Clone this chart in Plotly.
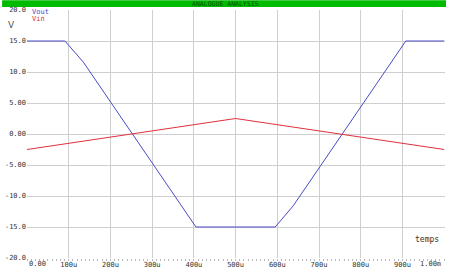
import plotly.graph_objects as go

# Data (time in seconds, voltages in V)
t_vout = [0, 91e-6, 135e-6, 405e-6, 595e-6, 638e-6, 908e-6, 1e-3]
vout = [15, 15, 11.6, -15, -15, -11.6, 15, 15]
t_vin = [0, 500e-6, 1e-3]
vin = [-2.5, 2.5, -2.5]

x_tickvals = [i * 100e-6 for i in range(11)]
x_ticktext = ["0.00", "100u", "200u", "300u", "400u", "500u", "600u", "700u", "800u", "900u", "1.00m"]
y_tickvals = [20, 15, 10, 5, 0, -5, -10, -15, -20]
y_ticktext = ["20.0", "15.0", "10.0", "5.00", "0.00", "-5.00", "-10.0", "-15.0", "-20.0"]

W, H = 450, 274
L, R, T, B = 25, 5, 10, 12
PW, PH = W - L - R, H - T - B

def px(x):
    return (x - L) / PW

def py(y):
    return (H - B - y) / PH

FONT = "DejaVu Sans Mono"
fig = go.Figure()
fig.add_trace(go.Scatter(x=t_vout, y=vout, mode="lines", line=dict(color="#4a4ac8", width=1), name="Vout"))
fig.add_trace(go.Scatter(x=t_vin, y=vin, mode="lines", line=dict(color="#e0303c", width=1), name="Vin"))

# middle tick labels drawn by the axis; first and last placed like the reference (aligned to the edges)
axis_ticktext = [""] + x_ticktext[1:-1] + [""]

fig.update_layout(
    width=W, height=H, margin=dict(l=L, r=R, t=T, b=B, pad=0),
    paper_bgcolor="white", plot_bgcolor="white", showlegend=False,
    font=dict(family=FONT, size=7, color="#333333"),
    xaxis=dict(range=[0, 1.002e-3], tickvals=x_tickvals, ticktext=axis_ticktext,
               showgrid=True, gridcolor="#cfcfcf", gridwidth=1, zeroline=False,
               showline=False, ticks="", ticklabelstandoff=1,
               tickfont=dict(size=7, family=FONT, color="#333"),
               minor=dict(dtick=10e-6, ticks="outside", ticklen=2, tickcolor="#b8b8b8", showgrid=False),
               fixedrange=True),
    yaxis=dict(range=[-20, 20], tickvals=y_tickvals, ticktext=y_ticktext,
               showgrid=True, gridcolor="#cfcfcf", gridwidth=1, zeroline=False,
               showline=False, ticks="", tickfont=dict(size=7, family=FONT, color="#333"),
               fixedrange=True),
)

fig.add_annotation(text=x_ticktext[0], xref="paper", yref="paper", x=px(25), y=py(268),
                   showarrow=False, xanchor="left", yanchor="middle",
                   font=dict(family=FONT, size=7, color="#333"))
fig.add_annotation(text=x_ticktext[-1], xref="paper", yref="paper", x=px(443), y=py(268),
                   showarrow=False, xanchor="right", yanchor="middle",
                   font=dict(family=FONT, size=7, color="#333"))

fig.add_shape(type="rect", xref="paper", yref="paper",
              x0=px(0), x1=px(446), y0=py(7), y1=py(0),
              fillcolor="#00bb00", line=dict(width=0), layer="below")
fig.add_annotation(text="ANALOGUE ANALYSIS", xref="paper", yref="paper",
                   x=px(224), y=py(4.2), showarrow=False, xanchor="center", yanchor="middle",
                   borderpad=0,
                   font=dict(family=FONT, size=6.5, color="#005500"))
fig.add_annotation(text="Vout", xref="paper", yref="paper", x=px(28), y=py(12.5),
                   showarrow=False, xanchor="left", yanchor="middle",
                   font=dict(family=FONT, size=7, color="#4a4ac8"))
fig.add_annotation(text="Vin", xref="paper", yref="paper", x=px(28), y=py(19.5),
                   showarrow=False, xanchor="left", yanchor="middle",
                   font=dict(family=FONT, size=7, color="#e0303c"))
fig.add_annotation(text="V", xref="paper", yref="paper", x=px(9), y=py(25),
                   showarrow=False, xanchor="center", yanchor="middle",
                   font=dict(family="DejaVu Sans", size=9, color="#555"))
fig.add_annotation(text="temps", xref="paper", yref="paper", x=px(441), y=py(243),
                   showarrow=False, xanchor="right", yanchor="middle",
                   font=dict(family=FONT, size=8, color="#333"))

fig.write_html("out.html")
